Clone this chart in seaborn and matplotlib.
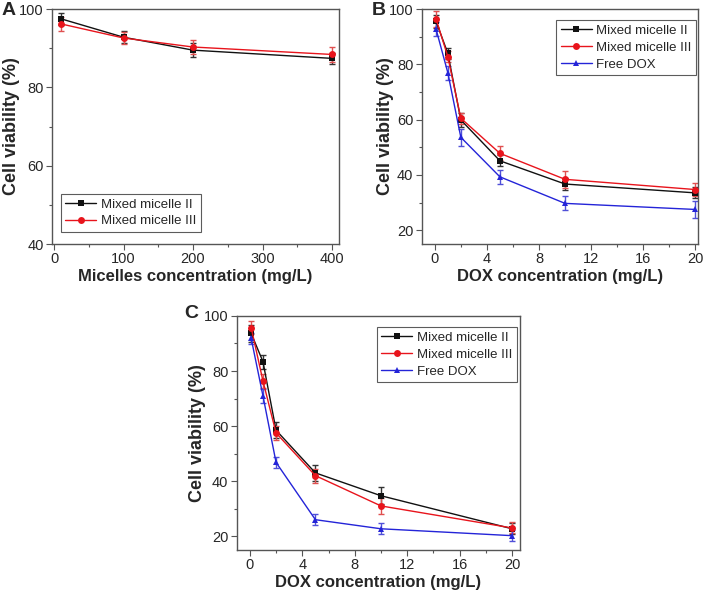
import numpy as np
import pandas as pd
import matplotlib
matplotlib.use('Agg')
import matplotlib.pyplot as plt
import seaborn as sns
from matplotlib.ticker import MultipleLocator

sns.set_style('ticks')
plt.rcParams['font.family'] = ['Liberation Sans', 'DejaVu Sans']

# Panel A: blank micelles
micelle_conc = [10, 100, 200, 400]
a_mm2 = [97.5, 92.8, 89.5, 87.4]
a_mm2_err = [1.5, 1.6, 1.8, 1.5]
a_mm3 = [96.2, 92.6, 90.3, 88.4]
a_mm3_err = [1.8, 1.6, 1.8, 1.8]

# Panel B and C: DOX formulations
dox_conc = [0.1, 1, 2, 5, 10, 20]
b_mm2 = [95.5, 84.0, 59.9, 45.1, 36.7, 33.5]
b_mm2_err = [2.5, 2.0, 2.5, 2.0, 2.0, 2.0]
b_mm3 = [96.4, 82.8, 60.5, 47.8, 38.4, 34.7]
b_mm3_err = [3.0, 2.0, 2.0, 2.5, 3.0, 2.5]
b_free = [92.7, 77.0, 53.6, 39.3, 29.7, 27.5]
b_free_err = [2.5, 2.5, 3.0, 2.5, 2.5, 3.0]

c_mm2 = [93.7, 83.4, 58.5, 43.0, 34.7, 22.7]
c_mm2_err = [3.0, 2.5, 3.0, 3.0, 3.0, 2.0]
c_mm3 = [95.8, 76.4, 57.5, 42.0, 31.0, 23.0]
c_mm3_err = [2.5, 2.5, 2.5, 2.5, 3.0, 2.0]
c_free = [91.9, 71.0, 46.8, 26.0, 22.7, 20.2]
c_free_err = [2.0, 2.5, 2.0, 2.0, 2.0, 2.0]

names = ['Mixed micelle II', 'Mixed micelle III', 'Free DOX']
colors = {'Mixed micelle II': '#111111', 'Mixed micelle III': '#e8141c', 'Free DOX': '#2424d8'}
err_colors = {'Mixed micelle II': '#333333', 'Mixed micelle III': '#e05050', 'Free DOX': '#5050d8'}
markers = {'Mixed micelle II': 's', 'Mixed micelle III': 'o', 'Free DOX': '^'}


def panel(ax, x, series, errs, labels):
    rows = []
    for name, ys in zip(labels, series):
        for xi, yi in zip(x, ys):
            rows.append({'conc': xi, 'viab': yi, 'group': name})
    df = pd.DataFrame(rows)
    for name, ys, es in zip(labels, series, errs):
        ax.errorbar(x, ys, yerr=es, fmt='none', ecolor=err_colors[name],
                    elinewidth=1.0, capsize=2.5, capthick=1.0, zorder=2)
    sns.lineplot(data=df, x='conc', y='viab', hue='group', style='group',
                 palette={k: colors[k] for k in labels},
                 markers={k: markers[k] for k in labels}, dashes=False,
                 markersize=5, markeredgewidth=0, linewidth=1.0, ax=ax, zorder=3)
    for s in ax.spines.values():
        s.set_color('#555555')
        s.set_linewidth(1.0)
    ax.tick_params(axis='both', which='major', labelsize=10.5, length=4, width=0.8,
                   color='#555555', direction='out', pad=2)
    ax.tick_params(axis='both', which='minor', length=2.5, width=0.8,
                   color='#555555', direction='out')
    ax.set_ylabel('Cell viability (%)', fontsize=13, fontweight='bold')


def style_legend(ax, loc, anchor):
    leg = ax.legend(loc=loc, bbox_to_anchor=anchor, fontsize=9.5, frameon=True,
                    fancybox=False, edgecolor='#333333', handlelength=2.35,
                    borderpad=0.35, borderaxespad=0, labelspacing=0.35,
                    handletextpad=0.35)
    leg.get_frame().set_linewidth(0.8)


fig = plt.figure(figsize=(7.1, 5.94), dpi=100)

axA = fig.add_axes([0.0732, 0.5892, 0.4042, 0.3956])
panel(axA, micelle_conc, [a_mm2, a_mm3], [a_mm2_err, a_mm3_err], names[:2])
axA.set_xlim(-3, 410)
axA.set_ylim(40, 100)
axA.xaxis.set_major_locator(MultipleLocator(100))
axA.xaxis.set_minor_locator(MultipleLocator(50))
axA.yaxis.set_major_locator(MultipleLocator(20))
axA.yaxis.set_minor_locator(MultipleLocator(10))
axA.set_xlabel('Micelles concentration (mg/L)', fontsize=12, fontweight='bold', labelpad=2)
axA.yaxis.set_label_coords(-0.111, 0.5)
style_legend(axA, 'lower left', (0.031, 0.051))

axB = fig.add_axes([0.594, 0.5892, 0.389, 0.3956])
panel(axB, dox_conc, [b_mm2, b_mm3, b_free], [b_mm2_err, b_mm3_err, b_free_err], names)
axB.set_xlim(-1, 20.2)
axB.set_ylim(15, 100)
axB.set_xlabel('DOX concentration (mg/L)', fontsize=12, fontweight='bold', labelpad=2)
axB.yaxis.set_label_coords(-0.100, 0.5)
style_legend(axB, 'upper right', (0.994, 0.953))

axC = fig.add_axes([0.3334, 0.0741, 0.399, 0.394])
panel(axC, dox_conc, [c_mm2, c_mm3, c_free], [c_mm2_err, c_mm3_err, c_free_err], names)
axC.set_xlim(-1, 20.6)
axC.set_ylim(15, 100)
axC.set_xlabel('DOX concentration (mg/L)', fontsize=12, fontweight='bold', labelpad=2)
axC.yaxis.set_label_coords(-0.108, 0.5)
style_legend(axC, 'upper right', (0.989, 0.953))

for ax in (axB, axC):
    ax.xaxis.set_major_locator(MultipleLocator(4))
    ax.xaxis.set_minor_locator(MultipleLocator(2))
    ax.yaxis.set_major_locator(MultipleLocator(20))
    ax.yaxis.set_minor_locator(MultipleLocator(10))

fig.text(0.002, 0.997, 'A', fontsize=14, fontweight='bold', va='top', ha='left')
fig.text(0.523, 0.997, 'B', fontsize=14, fontweight='bold', va='top', ha='left')
fig.text(0.260, 0.486, 'C', fontsize=14, fontweight='bold', va='top', ha='left')

fig.savefig('out.png', dpi=100)
